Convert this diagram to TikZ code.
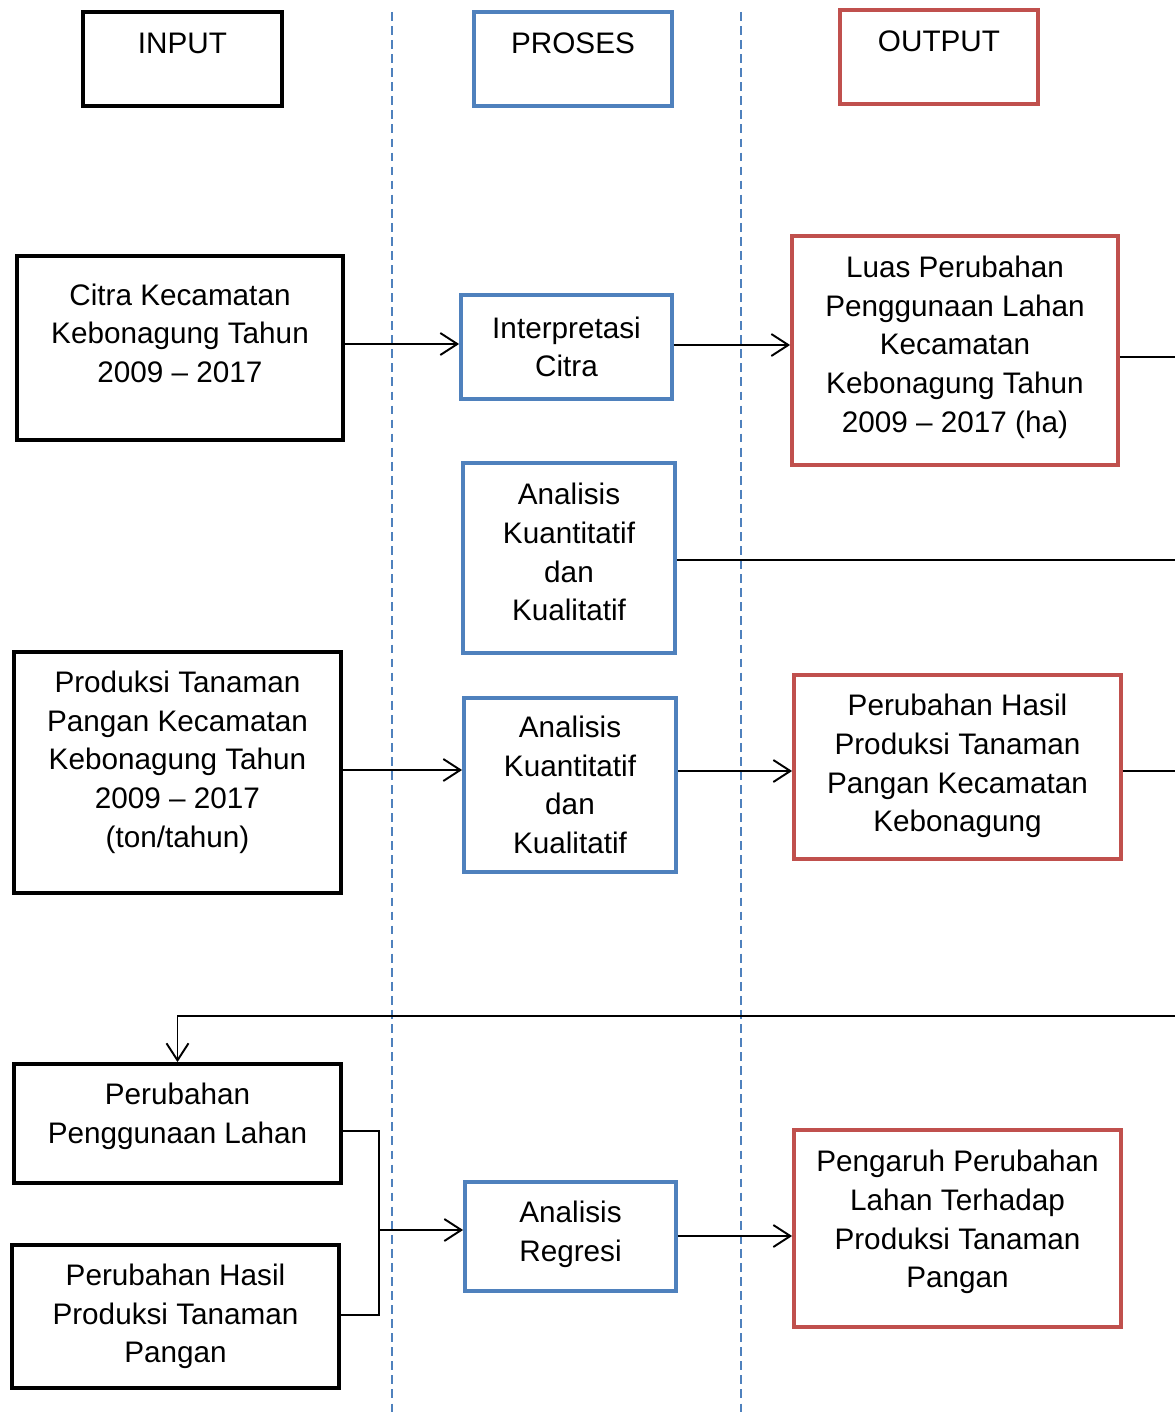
\documentclass[tikz,border=0pt]{standalone}
\usepackage{xcolor}
\usepackage{fontspec}
\setmainfont{Liberation Sans}
\usepackage{tikz}
\usetikzlibrary{shapes,arrows,arrows.meta,positioning}

\definecolor{procblue}{RGB}{79,129,189}
\definecolor{outred}{RGB}{192,80,77}

\tikzset{
    box/.style={
        draw,
        line width=2.2pt,
        align=center,
        inner sep=0pt,
        font=\fontsize{16.9}{22}\selectfont
    },
    inbox/.style={box, draw=black},
    procbox/.style={box, draw=procblue},
    outbox/.style={box, draw=outred},
    headbox/.style={text height=0.84cm, text depth=1.04cm},
    arr/.style={
        -{Straight Barb[length=3.4mm,width=4.4mm]},
        line width=1.1pt
    },
    wire/.style={line width=1.1pt},
    lane/.style={
        procblue,
        line width=0.8pt,
        dash pattern=on 5pt off 3pt
    }
}

\begin{document}
\begin{tikzpicture}[x=0.02cm, y=-0.02cm]
                \useasboundingbox (0,0) rectangle (1175,1416);

                \draw[lane] (392,12) -- (392,1416);
                \draw[lane] (741,12) -- (741,1416);

                \node[inbox, headbox, minimum width=3.98cm, minimum height=1.88cm]
                    (inhead) at (182.5,59) {INPUT};
                \node[procbox, headbox, minimum width=3.96cm, minimum height=1.88cm]
                    (prohead) at (573,59) {PROSES};
                \node[outbox, headbox, minimum width=3.96cm, minimum height=1.88cm]
                    (outhead) at (939,57) {OUTPUT};

                \node[inbox, minimum width=6.52cm, minimum height=3.68cm]
                    (citra) at (180,348) {Citra Kecamatan\\Kebonagung Tahun\\2009 -- 2017\\[-5pt]};
                \node[procbox, minimum width=4.22cm, minimum height=2.08cm]
                    (interp) at (566.5,347) {Interpretasi\\Citra};
                \node[outbox, minimum width=6.52cm, minimum height=4.58cm]
                    (luas) at (955,350.5) {Luas Perubahan\\Penggunaan Lahan\\Kecamatan\\Kebonagung Tahun\\2009 -- 2017 (ha)\\[-14.6pt]};

                \node[procbox, minimum width=4.24cm, minimum height=3.8cm]
                    (anakuan) at (569,558) {Analisis\\Kuantitatif\\dan\\Kualitatif\\[-15.2pt]};

                \node[inbox, minimum width=6.54cm, minimum height=4.82cm]
                    (produksi) at (177.5,772.5) {Produksi Tanaman\\Pangan Kecamatan\\Kebonagung Tahun\\2009 -- 2017\\(ton/tahun)\\[-6.6pt]};
                \node[procbox, minimum width=4.24cm, minimum height=3.48cm]
                    (anaprod) at (570,785) {Analisis\\Kuantitatif\\dan\\Kualitatif};
                \node[outbox, minimum width=6.54cm, minimum height=3.68cm]
                    (hasil) at (957.5,767) {Perubahan Hasil\\Produksi Tanaman\\Pangan Kecamatan\\Kebonagung\\[-17.4pt]};

                \node[inbox, minimum width=6.54cm, minimum height=2.38cm]
                    (lahan) at (177.5,1123.5) {Perubahan\\Penggunaan Lahan\\[-10pt]};
                \node[inbox, minimum width=6.54cm, minimum height=2.86cm]
                    (panen) at (175.5,1316.5) {Perubahan Hasil\\Produksi Tanaman\\Pangan};
                \node[procbox, minimum width=4.22cm, minimum height=2.18cm]
                    (regresi) at (570.5,1236.5) {Analisis\\Regresi\\[-15.7pt]};
                \node[outbox, minimum width=6.54cm, minimum height=3.94cm]
                    (pengaruh) at (957.5,1228.5) {Pengaruh Perubahan\\Lahan Terhadap\\Produksi Tanaman\\Pangan\\[-11.2pt]};

                \coordinate (luasend) at (1175,357);
                \coordinate (kuanend) at (1175,560);
                \coordinate (hasilend) at (1175,771);
                \coordinate (balik) at (1175,1016);
                \coordinate (simpul) at (379,1230);

                \draw[arr] (citra.east |- 0,344) -- (interp.west |- 0,344);
                \draw[arr] (interp.east |- 0,345) -- (luas.west |- 0,345);
                \draw[wire] (luas.east |- luasend) -- (luasend);
                \draw[wire] (anakuan.east |- kuanend) -- (kuanend);

                \draw[arr] (produksi.east |- 0,770) -- (anaprod.west |- 0,770);
                \draw[arr] (anaprod.east |- hasilend) -- (hasil.west |- hasilend);
                \draw[wire] (hasil.east |- hasilend) -- (hasilend);

                \draw[arr] (balik) -- (lahan.north |- balik) -- (lahan.north);
                \draw[wire] (lahan.east |- 0,1131) -- (simpul |- 0,1131)
                    -- (simpul |- 0,1315) -- (panen.east |- 0,1315);
                \draw[arr] (simpul) -- (regresi.west |- simpul);
                \draw[arr] (regresi.east |- 0,1236) -- (pengaruh.west |- 0,1236);
\end{tikzpicture}
\end{document}
